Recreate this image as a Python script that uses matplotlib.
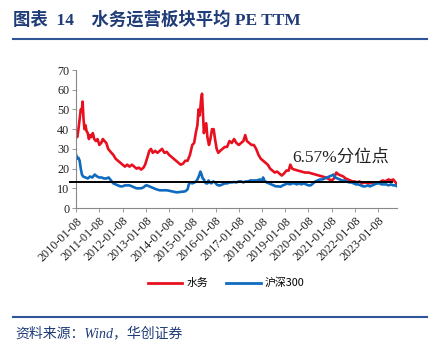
import matplotlib
matplotlib.use("Agg")
import matplotlib.pyplot as plt
from matplotlib.lines import Line2D

# ---- data (x = years since 2010-01-08) ----
red_x = [0.00,0.05,0.10,0.15,0.20,0.24,0.28,0.32,0.36,0.40,0.45,0.50,0.55,0.60,0.65,0.72,0.78,0.85,0.92,1.00,
         1.08,1.15,1.22,1.30,1.38,1.45,1.52,1.60,1.70,1.80,1.90,2.00,2.10,2.20,2.30,2.40,2.50,2.60,2.70,2.80,
         2.90,2.97,3.05,3.15,3.22,3.30,3.40,3.50,3.60,3.70,3.80,3.90,4.00,4.10,4.20,4.30,4.40,4.50,4.60,4.70,
         4.80,4.90,5.00,5.08,5.15,5.22,5.27,5.32,5.38,5.42,5.46,5.50,5.55,5.60,5.65,5.72,5.78,5.85,5.92,5.98,
         6.05,6.12,6.20,6.30,6.40,6.50,6.60,6.70,6.80,6.90,7.00,7.10,7.20,7.28,7.35,7.45,7.55,7.65,7.75,7.85,
         7.95,8.05,8.15,8.25,8.35,8.45,8.55,8.65,8.75,8.85,8.95,9.05,9.15,9.22,9.30,9.40,9.55,9.70,9.85,10.0,
         10.15,10.3,10.45,10.6,10.75,10.9,11.0,11.1,11.2,11.3,11.4,11.5,11.6,11.7,11.8,11.9,12.0,12.1,12.2,12.3,
         12.45,12.6,12.75,12.9,13.05,13.2,13.3,13.45,13.55,13.65,13.75,13.82]
red_y = [37,36,40,45,50,49,54,45,40,42,39,38,35,37,36,38,35,34,35,32,
         33,35,34,33,30,29,28,27,25,24,23,22,21,22,21,22,21,20,20.5,19.5,
         20.5,22,25,29,30,28,29,28,29,30,28,28.5,27,26,25,24,23,22,22.5,24,
         24,27,32,33,38,42,50,47,55,58,48,38,42,43,36,32,35,40,40,35,
         30,28,29,30,31,31,34,33,35,33,32,33,34,37,34,33,32,32,30,27,
         25,24,23,22,20,19,18,18.5,17.5,16.5,17.5,19,19,22,20,19.5,19,18.5,18,18,
         17.5,17,16.5,16,15.5,14.5,14,15,18,17,16.5,16,15,14.5,14,13.5,13.5,13,13.5,12.5,
         13,12.5,13,12.5,13,14,13.5,14.5,14,14.5,13,12]

blue_x = [0.00,0.05,0.10,0.15,0.20,0.25,0.30,0.40,0.50,0.60,0.70,0.80,0.90,1.00,1.10,1.20,1.30,1.40,1.50,1.60,
          1.70,1.80,1.90,2.00,2.10,2.20,2.30,2.40,2.50,2.60,2.70,2.80,2.90,3.00,3.05,3.15,3.25,3.35,3.45,3.60,
          3.75,3.90,4.00,4.10,4.20,4.30,4.40,4.50,4.60,4.70,4.80,4.85,4.92,5.00,5.10,5.20,5.28,5.35,5.40,5.45,
          5.50,5.55,5.60,5.65,5.70,5.75,5.82,5.90,5.98,6.05,6.12,6.20,6.30,6.40,6.50,6.60,6.70,6.80,6.90,7.00,
          7.10,7.20,7.30,7.40,7.50,7.60,7.70,7.80,7.90,8.00,8.05,8.10,8.20,8.30,8.40,8.50,8.60,8.70,8.80,8.90,
          9.00,9.10,9.20,9.30,9.40,9.50,9.60,9.70,9.80,9.90,10.0,10.1,10.2,10.3,10.4,10.5,10.6,10.7,10.8,10.9,
          11.0,11.08,11.15,11.25,11.35,11.45,11.55,11.65,11.75,11.85,11.95,12.05,12.15,12.25,12.35,12.45,12.55,12.65,12.75,12.85,
          12.95,13.05,13.15,13.25,13.35,13.45,13.55,13.65,13.75,13.82]
blue_y = [27,25,25.5,24,20,17,16,15.5,15,16,15.5,17,16,15.5,15.5,15,15,15.5,14,12.5,
          12,11.5,11,11,11.5,11.5,11.5,11,10.5,10,10,10,10.5,11.5,11.5,11,10.5,10,9.5,9,
          9,9,8.8,8.5,8.3,8,8,8.2,8.3,8.5,9.5,12,13,12.5,13,14,16,18.5,17,15,
          14.5,13,12.5,12.5,14,13,12.5,13.5,13,12,11.5,11.5,12,12.5,12.5,13,13,13.2,13,13.5,
          13.5,13,13.5,13.5,14,14,14,14,14.5,14,15.5,14,13,12.5,12,11.5,11,11,10.8,11.5,
          12,12.5,12,12.5,12.5,12,12.5,12,12.5,12,11.5,11.5,12.5,13.5,14,14.5,14.5,15,15.5,16,
          16.5,17,15.5,15,14.5,14,14,13.5,13,13,12.5,12,12,11.5,11,11,11.5,11,11.5,12,
          12.5,12.5,12,12,12,11.5,12,11.5,11.5,11]

percentile_level = 13.0
tick_labels = ["2010-01-08","2011-01-08","2012-01-08","2013-01-08","2014-01-08","2015-01-08","2016-01-08",
               "2017-01-08","2018-01-08","2019-01-08","2020-01-08","2021-01-08","2022-01-08","2023-01-08"]
series_names = ["水务", "沪深300"]
title_text = "图表  14    水务运营板块平均 PE TTM"
note_text = "6.57%分位点"
source_text = "资料来源：Wind，华创证券"

RED = "#E8101F"
BLUE = "#0F6BC0"
NAVY = "#1F3C78"
SERIF = ["Liberation Serif", "Noto Sans CJK SC"]
SANS = ["Noto Sans CJK SC", "DejaVu Sans"]

fig = plt.figure(figsize=(4.35, 3.52), dpi=100)
ax = fig.add_axes([0.175, 0.409, 0.738, 0.392])

ax.plot(red_x, red_y, color=RED, lw=1.9, solid_joinstyle="round")
ax.plot(blue_x, blue_y, color=BLUE, lw=1.9, solid_joinstyle="round")
ax.axhline(percentile_level, xmin=-0.02, xmax=0.985, color="black", lw=1.4, clip_on=False, zorder=5)

ax.set_xlim(0, max(red_x))
ax.set_ylim(0, 70)
ax.set_yticks(range(0, 71, 10))
ax.set_xticks(range(len(tick_labels)))
ax.set_xticklabels(tick_labels, rotation=45, ha="right", rotation_mode="anchor")
for lab in ax.get_xticklabels() + ax.get_yticklabels():
    lab.set_fontfamily(SERIF)
    lab.set_fontsize(8.7)
    lab.set_color("#222222")
for s in ["top", "right"]:
    ax.spines[s].set_visible(False)
for s in ["left", "bottom"]:
    ax.spines[s].set_color("#888888")
    ax.spines[s].set_linewidth(0.8)
ax.tick_params(axis="both", length=3, width=0.6, color="#888888", pad=2)

ax.text(9.31, 25.5, note_text, fontsize=12.5, family=SERIF, color="#222222", va="center", ha="left")

# title and rules
fig.text(0.03, 0.943, title_text, fontsize=12.5, fontweight="bold", family=SERIF, color=NAVY, va="center")
fig.add_artist(Line2D([0.03, 0.982], [0.889, 0.889], color="#2F5597", lw=1.5))
fig.add_artist(Line2D([0.03, 0.982], [0.099, 0.099], color="#2F5597", lw=1.5))
fig.text(0.035, 0.054, source_text, fontsize=10, style="italic", family=SERIF, color=NAVY, va="center")

handles = [Line2D([], [], color=RED, lw=2), Line2D([], [], color=BLUE, lw=2)]
fig.legend(handles, series_names, loc="center", bbox_to_anchor=(0.52, 0.196), ncol=2, frameon=False,
           prop={"family": SANS, "size": 7.8}, handlelength=3.2, columnspacing=1.6, handletextpad=0.4)

fig.savefig("out.png", dpi=100)
